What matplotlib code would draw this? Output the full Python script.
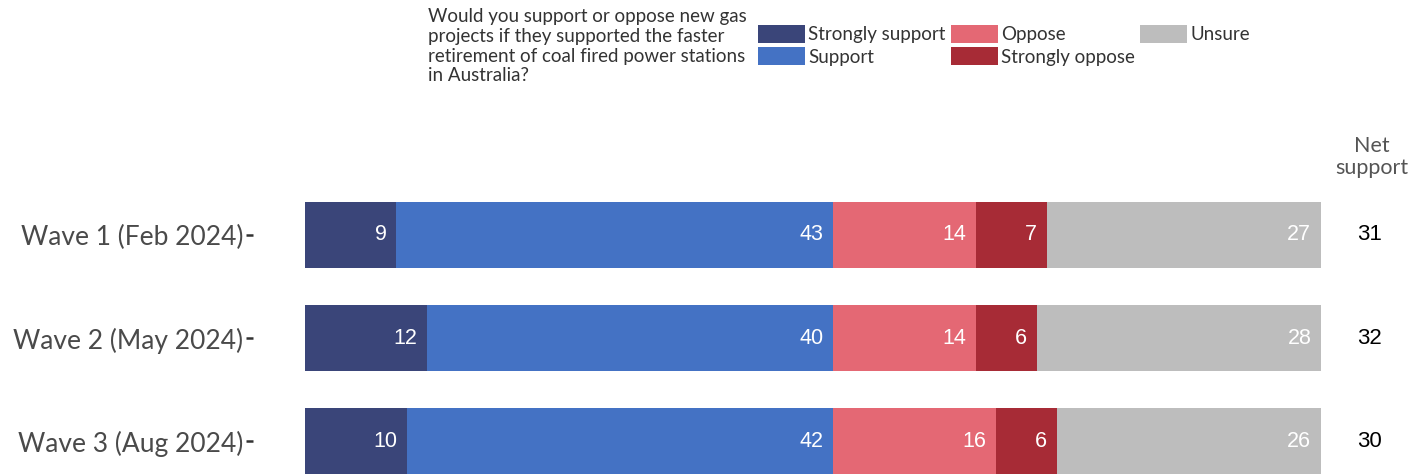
import numpy as np
import matplotlib.pyplot as plt
from matplotlib.patches import Patch

# Datos de la encuesta
waves = ['Wave 1 (Feb 2024)', 'Wave 2 (May 2024)', 'Wave 3 (Aug 2024)']
strongly_support = [9, 12, 10]
support = [43, 40, 42]
oppose = [14, 14, 16]
strongly_oppose = [7, 6, 6]
unsure = [27, 28, 26]
net_support = [31, 32, 30]

categories = ['Strongly support', 'Support', 'Oppose', 'Strongly oppose', 'Unsure']
colors = ['#3a4579', '#4472c4', '#e46874', '#a72b36', '#bdbdbd']
question = ('Would you support or oppose new gas\n'
            'projects if they supported the faster\n'
            'retirement of coal fired power stations\n'
            'in Australia?')

fig = plt.figure(figsize=(14.2, 4.74), dpi=100)
W, H = 1420, 474
ax = fig.add_axes([253 / W, 0, (1321 - 253) / W, 290 / H])

series = [strongly_support, support, oppose, strongly_oppose, unsure]
y = np.arange(len(waves))
left = np.zeros(len(waves))
for vals, col, name in zip(series, colors, categories):
    vals = np.array(vals)
    bars = ax.barh(y, vals, left=left, height=0.64, color=col, label=name)
    for b, v in zip(bars, vals):
        ax.annotate(str(v), (b.get_x() + b.get_width(), b.get_y() + b.get_height() / 2),
                    xytext=(-7, 0), textcoords='offset points', ha='right', va='center',
                    color='white', fontsize=15.5, family='Liberation Sans')
    left += vals

ax.set_xlim(-5.12, 100)
ax.set_ylim(2.32, -0.495)
ax.set_yticks(y)
ax.set_yticklabels(waves, fontsize=19, color='#4a4a4a', family='Lato')
ax.tick_params(axis='y', length=5, width=1.8, color='#333333', pad=2)
ax.set_xticks([])
for s in ax.spines.values():
    s.set_visible(False)

# Columna de apoyo neto
for yi, n in zip(y, net_support):
    ax.text(104.8, yi, str(n), ha='center', va='center', fontsize=16,
            color='black', family='Liberation Sans', clip_on=False)
fig.text(1372 / W, 1 - 157 / H, 'Net\nsupport', ha='center', va='center',
         fontsize=15.5, color='#555555', family='Lato', linespacing=1.1)

# Leyenda
fig.text(428 / W, 1 - 8 / H, question, ha='left', va='top', fontsize=13.5,
         color='#333333', family='Lato', linespacing=1.2)
handles = [Patch(facecolor=c, label=n) for c, n in zip(colors, categories)]
fig.legend(handles=handles, ncol=3, loc='upper left', bbox_to_anchor=(758 / W, 1 - 25 / H),
           frameon=False, prop={'family': 'Lato', 'size': 13.5}, handlelength=2.5,
           handleheight=1.1, handletextpad=0.16, columnspacing=0.3, labelspacing=0.2,
           labelcolor='#333333', borderaxespad=0, borderpad=0)

fig.savefig('out.png', dpi=100)
